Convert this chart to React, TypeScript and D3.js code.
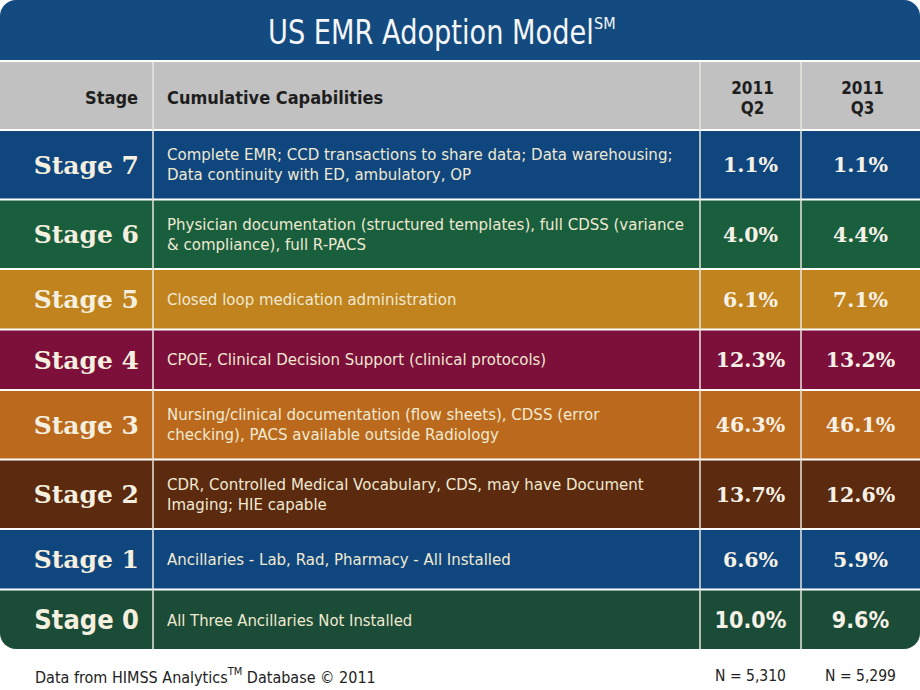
import React, { useEffect, useRef } from "react";
import * as d3 from "d3";

const stages = ["Stage 7", "Stage 6", "Stage 5", "Stage 4", "Stage 3", "Stage 2", "Stage 1", "Stage 0"];
const capabilities: string[][] = [
  ["Complete EMR; CCD transactions to share data; Data warehousing;", "Data continuity with ED, ambulatory, OP"],
  ["Physician documentation (structured templates), full CDSS (variance", "& compliance), full R-PACS"],
  ["Closed loop medication administration"],
  ["CPOE, Clinical Decision Support (clinical protocols)"],
  ["Nursing/clinical documentation (flow sheets), CDSS (error", "checking), PACS available outside Radiology"],
  ["CDR, Controlled Medical Vocabulary, CDS, may have Document", "Imaging; HIE capable"],
  ["Ancillaries - Lab, Rad, Pharmacy - All Installed"],
  ["All Three Ancillaries Not Installed"],
];
const q2Values = [1.1, 4.0, 6.1, 12.3, 46.3, 13.7, 6.6, 10.0];
const q3Values = [1.1, 4.4, 7.1, 13.2, 46.1, 12.6, 5.9, 9.6];
const rowColors = ["#10467e", "#195e3d", "#c0831d", "#7d0f3b", "#bb6a1d", "#5b2a0f", "#10467e", "#1b4c37"];
const periodLabels = [["2011", "Q2"], ["2011", "Q3"]];
const sampleSizes = ["N = 5,310", "N = 5,299"];

const W = 920;
const H = 690;

export default function App() {
  const ref = useRef<SVGSVGElement | null>(null);

  useEffect(() => {
    document.body.style.margin = "0";
    const svg = d3.select(ref.current);
    svg.selectAll("*").remove();

    const tableBottom = 649;
    const rowTop = 131;
    const gap = 2;
    const heights = capabilities.map((c) => (c.length === 2 ? 67.5 : 58.5));
    const tops: number[] = [];
    let acc = rowTop;
    heights.forEach((h) => {
      tops.push(acc);
      acc += h + gap;
    });

    const colX = [0, 153, 700, 801, W];
    const fmt = d3.format(".1f");
    const cond = "'DejaVu Sans Condensed', 'Liberation Sans Narrow', sans-serif";

    const defs = svg.append("defs");
    defs
      .append("clipPath")
      .attr("id", "tableClip")
      .append("rect")
      .attr("x", 0)
      .attr("y", 0)
      .attr("width", W)
      .attr("height", tableBottom)
      .attr("rx", 16)
      .attr("ry", 16);

    svg.append("rect").attr("width", W).attr("height", H).attr("fill", "#ffffff");

    const g = svg.append("g").attr("clip-path", "url(#tableClip)");

    g.append("rect").attr("x", 0).attr("y", 0).attr("width", W).attr("height", 60).attr("fill", "#134a7f");
    g.append("rect").attr("x", 0).attr("y", 62).attr("width", W).attr("height", 67).attr("fill", "#c1c1c1");

    g.selectAll("rect.row")
      .data(stages)
      .join("rect")
      .attr("class", "row")
      .attr("x", 0)
      .attr("y", (_, i) => tops[i])
      .attr("width", W)
      .attr("height", (_, i) => heights[i])
      .attr("fill", (_, i) => rowColors[i]);

    g.selectAll("line.vdiv")
      .data(colX.slice(1, 4))
      .join("line")
      .attr("class", "vdiv")
      .attr("x1", (d) => d)
      .attr("x2", (d) => d)
      .attr("y1", 62)
      .attr("y2", tableBottom)
      .attr("stroke", "#e6e6dc")
      .attr("stroke-width", 1.5);

    // title (horizontally compressed to mimic the condensed face)
    svg
      .append("g")
      .attr("transform", "translate(268,44) scale(0.89,1)")
      .append("text")
      .attr("x", 0)
      .attr("y", 0)
      .attr("fill", "#f4f6f8")
      .attr("font-family", cond)
      .attr("font-size", 34)
      .text("US EMR Adoption Model");
    svg
      .append("text")
      .attr("x", 594)
      .attr("y", 29)
      .attr("fill", "#f4f6f8")
      .attr("font-family", cond)
      .attr("font-size", 16)
      .text("SM");

    // header text
    svg
      .append("text")
      .attr("x", 138)
      .attr("y", 104)
      .attr("text-anchor", "end")
      .attr("font-family", cond)
      .attr("font-weight", "bold")
      .attr("font-size", 18)
      .attr("fill", "#1e1e1e")
      .text("Stage");
    svg
      .append("text")
      .attr("x", 167)
      .attr("y", 104)
      .attr("font-family", cond)
      .attr("font-weight", "bold")
      .attr("font-size", 18)
      .attr("fill", "#1e1e1e")
      .text("Cumulative Capabilities");
    periodLabels.forEach((lbl, j) => {
      const cx = (colX[j + 2] + colX[j + 3]) / 2 + 2;
      lbl.forEach((t, k) => {
        svg
          .append("text")
          .attr("x", cx)
          .attr("y", 94 + k * 20)
          .attr("text-anchor", "middle")
          .attr("font-family", cond)
          .attr("font-weight", "bold")
          .attr("font-size", 17)
          .attr("fill", "#1e1e1e")
          .text(t);
      });
    });

    const serif = "'DejaVu Serif', Georgia, serif";
    stages.forEach((s, i) => {
      const cy = tops[i] + heights[i] / 2;
      const last = i === stages.length - 1;
      svg
        .append("text")
        .attr("x", 139)
        .attr("y", cy)
        .attr("dy", "0.36em")
        .attr("text-anchor", "end")
        .attr("font-family", last ? cond : serif)
        .attr("font-weight", "bold")
        .attr("font-size", last ? 27 : 25)
        .attr("fill", "#f4efdf")
        .text(s);

      const lines = capabilities[i];
      lines.forEach((ln, k) => {
        svg
          .append("text")
          .attr("x", 167)
          .attr("y", cy + (k - (lines.length - 1) / 2) * 20)
          .attr("dy", "0.36em")
          .attr("font-family", last ? cond : "'DejaVu Sans', Verdana, sans-serif")
          .attr("font-size", last ? 16.5 : 15)
          .attr("fill", "#efe9d2")
          .text(ln);
      });

      [q2Values[i], q3Values[i]].forEach((v, j) => {
        const cx = (colX[j + 2] + colX[j + 3]) / 2;
        svg
          .append("text")
          .attr("x", cx)
          .attr("y", cy)
          .attr("dy", "0.36em")
          .attr("text-anchor", "middle")
          .attr("font-family", last ? cond : serif)
          .attr("font-weight", "bold")
          .attr("font-size", last ? 23 : 20.5)
          .attr("fill", "#f6f1e6")
          .text(fmt(v) + "%");
      });
    });

    // footer
    const foot = svg
      .append("text")
      .attr("x", 35)
      .attr("y", 683)
      .attr("font-family", cond)
      .attr("font-size", 16)
      .attr("fill", "#222");
    foot.append("tspan").text("Data from HIMSS Analytics");
    foot.append("tspan").attr("font-size", 11).attr("dy", -8).text("TM");
    foot.append("tspan").attr("dy", 8).text(" Database © 2011");

    sampleSizes.forEach((n, j) => {
      const cx = (colX[j + 2] + colX[j + 3]) / 2;
      svg
        .append("text")
        .attr("x", cx)
        .attr("y", 681)
        .attr("text-anchor", "middle")
        .attr("font-family", cond)
        .attr("font-size", 15.5)
        .attr("fill", "#222")
        .text(n);
    });
  }, []);

  return (
    <svg
      ref={ref}
      width={W}
      height={H}
      style={{ display: "block", position: "absolute", left: 0, top: 0 }}
    />
  );
}
